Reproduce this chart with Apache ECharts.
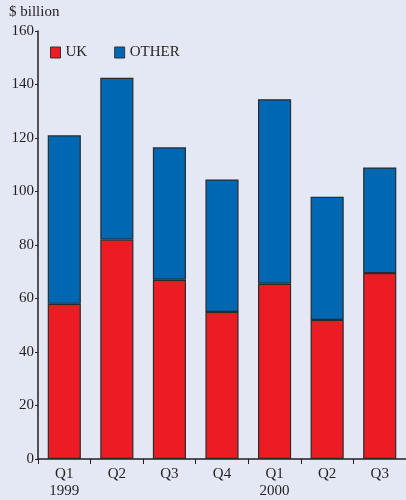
<!DOCTYPE html>
<html>
<head>
<meta charset="utf-8">
<script src="https://cdn.jsdelivr.net/npm/echarts@6/dist/echarts.min.js"></script>
<style>
  html, body { margin: 0; padding: 0; background: #e3e8f4; }
  #chart { width: 406px; height: 500px; }
</style>
</head>
<body>
<div id="chart"></div>
<script>
// Quarterly values, $ billion
const categories = ['Q1\n1999', 'Q2', 'Q3', 'Q4', 'Q1\n2000', 'Q2', 'Q3'];
const ukValues = [58, 82, 67, 55, 65.5, 52, 69.5];
const otherValues = [63, 60.5, 49.5, 49.5, 69, 46, 39.5];
const yTicks = [0, 20, 40, 60, 80, 100, 120, 140, 160];

const serif = '"Liberation Serif", "DejaVu Serif", serif';
const textColor = '#231f20';

const chart = echarts.init(document.getElementById('chart'));
chart.setOption({
  backgroundColor: '#e3e8f4',
  animation: false,
  textStyle: { fontFamily: serif },
  legend: {
    left: 45,
    top: 40,
    itemWidth: 10,
    itemHeight: 11,
    itemGap: 27,
    icon: 'rect',
    textStyle: { fontFamily: serif, fontSize: 15, color: textColor },
    data: [
      { name: 'UK', itemStyle: { borderColor: '#333', borderWidth: 1 } },
      { name: 'OTHER', itemStyle: { borderColor: '#333', borderWidth: 1 } }
    ]
  },
  graphic: [{
    type: 'text',
    left: 9,
    top: 5,
    style: { text: '$ billion', fontFamily: serif, fontSize: 15, fill: textColor }
  }],
  grid: { left: 38, right: 0, top: 31, bottom: 39, containLabel: false },
  xAxis: {
    type: 'category',
    data: categories,
    axisLine: { lineStyle: { color: textColor, width: 1.5 } },
    axisTick: { show: true, alignWithLabel: false, length: 5, lineStyle: { color: textColor } },
    axisLabel: {
      fontFamily: serif, fontSize: 15, color: textColor, margin: 7, lineHeight: 17,
      interval: 0
    }
  },
  yAxis: {
    type: 'value',
    min: yTicks[0],
    max: yTicks[yTicks.length - 1],
    interval: yTicks[1] - yTicks[0],
    splitLine: { show: false },
    axisLine: { show: true, lineStyle: { color: textColor, width: 1.5 } },
    axisTick: { show: true, length: 3, lineStyle: { color: textColor } },
    axisLabel: { fontFamily: serif, fontSize: 15, color: textColor, margin: 4 }
  },
  series: [
    {
      name: 'UK',
      type: 'bar',
      stack: 'total',
      barWidth: '63%',
      data: ukValues,
      itemStyle: { color: '#ec1c24', borderColor: '#2b2b2b', borderWidth: 1.2 }
    },
    {
      name: 'OTHER',
      type: 'bar',
      stack: 'total',
      barWidth: '63%',
      data: otherValues,
      itemStyle: { color: '#0067b3', borderColor: '#2b2b2b', borderWidth: 1.2 }
    }
  ]
});
</script>
</body>
</html>
